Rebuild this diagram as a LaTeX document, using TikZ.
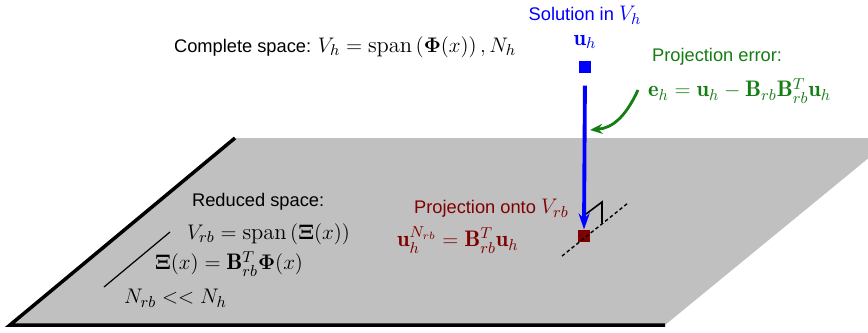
\documentclass[tikz,border=0pt]{standalone}
\usepackage{fontspec}
\setsansfont{Liberation Sans}
\usepackage{amsmath}
\usetikzlibrary{arrows.meta}
\definecolor{planegray}{RGB}{192,192,192}
\definecolor{projred}{RGB}{128,0,0}
\definecolor{errgreen}{RGB}{20,125,20}
\newcommand{\mth}[1]{{\fontsize{12.8}{15}\selectfont$#1$}}

\begin{document}
\begin{tikzpicture}[x=0.02cm, y=-0.02cm,
	lbl/.style={font=\sffamily\fontsize{10.4}{12}\selectfont, inner sep=1pt},
	eqn/.style={font=\fontsize{12.8}{15}\selectfont, inner sep=1pt},
	pt/.style={inner sep=0pt, minimum size=0.25cm}]
	\useasboundingbox (0,0) rectangle (868,332);
	% plane of the reduced space
	\begin{scope}
		\clip (0,0) rectangle (868,332);
		\fill[planegray] (10,325) -- (235,138) -- (893,138) -- (665,325) -- cycle;
	\end{scope}
	\draw[line width=2pt] (235,138) -- (10,325) -- (665,325);
	\draw[line width=0.7pt] (170,232) -- (104,287);
	
	\node[lbl, anchor=west] (complete) at (172,47) {Complete space: \mth{V_h = \operatorname{span}\left(\boldsymbol{\Phi}(x)\right), N_h}};
	\node[lbl, text=blue] (soltitle) at (585,15) {Solution in \mth{V_h}};
	\node[eqn, text=blue] (uhlabel) at (585,42) {$\mathbf{u}_h$};
	\node[pt, fill=blue] (solpt) at (585,67) {};
	
	\node[lbl, anchor=west] (redtitle) at (190,202) {Reduced space:};
	\node[eqn, anchor=west] (redspan) at (185,234) {$V_{rb} = \operatorname{span}\left(\boldsymbol{\Xi}(x)\right)$};
	\node[eqn, anchor=west] (redxi) at (153,264) {$\boldsymbol{\Xi}(x) = \mathbf{B}_{rb}^T\boldsymbol{\Phi}(x)$};
	\node[eqn, anchor=west] (redsize) at (122,298) {$N_{rb} << N_h$};
	
	\node[lbl, anchor=west, text=projred] (projtitle) at (412,208) {Projection onto \mth{V_{rb}}};
	\node[eqn, anchor=west, text=projred] (projformula) at (395,240) {$\mathbf{u}_h^{N_{rb}} = \mathbf{B}_{rb}^T\mathbf{u}_h$};
	\node[pt, fill=projred] (projpt) at (584,236) {};
	
	% plane direction through the projection and right angle mark
	\coordinate (dashA) at (562,256);
	\coordinate (dashB) at (628,203);
	\draw[line width=0.8pt, dash pattern=on 2pt off 1.5pt] (dashA) -- (dashB);
	\draw[line width=0.9pt] (586,214) -- (602,202) -- (602,223);
	
	\draw[blue, line width=2.2pt, shorten <=0.24cm, -{Stealth[length=0.32cm, width=0.22cm]}] (solpt.south) -- (projpt.north);
	
	\node[lbl, anchor=west, text=errgreen] (errtitle) at (650,57) {Projection error:};
	\node[eqn, anchor=west, text=errgreen] (errformula) at (646,91) {$\mathbf{e}_h = \mathbf{u}_h - \mathbf{B}_{rb}\mathbf{B}_{rb}^T\mathbf{u}_h$};
	\coordinate (errfrom) at (638,90);
	\coordinate (errto) at (590,130);
	\draw[errgreen, line width=1.6pt, -{Stealth[length=0.25cm, width=0.2cm]}] (errfrom) .. controls (625,118) and (612,128) .. (errto);
\end{tikzpicture}
\end{document}
